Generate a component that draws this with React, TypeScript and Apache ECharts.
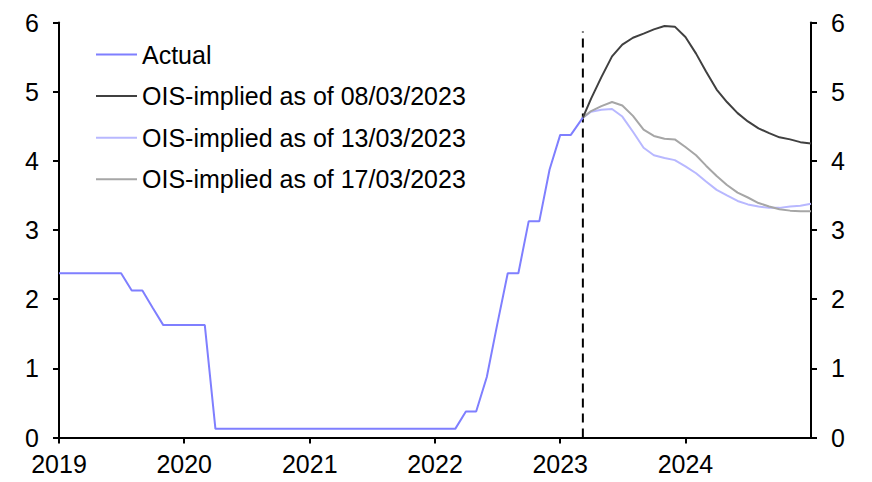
import React, { useEffect, useRef } from "react";
import * as echarts from "echarts";

const FONT = '"Liberation Sans", Arial, sans-serif';

const seriesNames = [
  "Actual",
  "OIS-implied as of 08/03/2023",
  "OIS-implied as of 13/03/2023",
  "OIS-implied as of 17/03/2023",
];

const seriesColors = ["#7f7fff", "#404040", "#b8b8ff", "#a6a6a6"];

const actualData: [string, number][] = [
  ["2019-01-01", 2.375], ["2019-02-01", 2.375], ["2019-03-01", 2.375], ["2019-04-01", 2.375],
  ["2019-05-01", 2.375], ["2019-06-01", 2.375], ["2019-07-01", 2.375], ["2019-08-01", 2.125],
  ["2019-09-01", 2.125], ["2019-10-01", 1.875], ["2019-11-01", 1.625], ["2019-12-01", 1.625],
  ["2020-01-01", 1.625], ["2020-02-01", 1.625], ["2020-03-01", 1.625], ["2020-04-01", 0.125],
  ["2020-05-01", 0.125], ["2020-06-01", 0.125], ["2020-07-01", 0.125], ["2020-08-01", 0.125],
  ["2020-09-01", 0.125], ["2020-10-01", 0.125], ["2020-11-01", 0.125], ["2020-12-01", 0.125],
  ["2021-01-01", 0.125], ["2021-02-01", 0.125], ["2021-03-01", 0.125], ["2021-04-01", 0.125],
  ["2021-05-01", 0.125], ["2021-06-01", 0.125], ["2021-07-01", 0.125], ["2021-08-01", 0.125],
  ["2021-09-01", 0.125], ["2021-10-01", 0.125], ["2021-11-01", 0.125], ["2021-12-01", 0.125],
  ["2022-01-01", 0.125], ["2022-02-01", 0.125], ["2022-03-01", 0.125], ["2022-04-01", 0.375],
  ["2022-05-01", 0.375], ["2022-06-01", 0.875], ["2022-07-01", 1.625], ["2022-08-01", 2.375],
  ["2022-09-01", 2.375], ["2022-10-01", 3.125], ["2022-11-01", 3.125], ["2022-12-01", 3.875],
  ["2023-01-01", 4.375], ["2023-02-01", 4.375], ["2023-03-08", 4.625],
];

const forecastDates = [
  "2023-03-08", "2023-04-01", "2023-05-01", "2023-06-01", "2023-07-01", "2023-08-01",
  "2023-09-01", "2023-10-01", "2023-11-01", "2023-12-01", "2024-01-01", "2024-02-01",
  "2024-03-01", "2024-04-01", "2024-05-01", "2024-06-01", "2024-07-01", "2024-08-01",
  "2024-09-01", "2024-10-01", "2024-11-01", "2024-12-01", "2025-01-01",
];

const ois0803 = [
  4.625, 4.9, 5.21, 5.51, 5.68, 5.78, 5.84, 5.9, 5.95, 5.94, 5.79, 5.55,
  5.29, 5.03, 4.85, 4.69, 4.57, 4.47, 4.4, 4.34, 4.31, 4.27, 4.25,
];
const ois1303 = [
  4.625, 4.71, 4.74, 4.75, 4.64, 4.42, 4.19, 4.08, 4.04, 4.01, 3.92, 3.82,
  3.7, 3.58, 3.5, 3.42, 3.37, 3.34, 3.32, 3.32, 3.34, 3.35, 3.38,
];
const ois1703 = [
  4.625, 4.72, 4.79, 4.85, 4.8, 4.65, 4.45, 4.36, 4.32, 4.31, 4.2, 4.08,
  3.93, 3.78, 3.65, 3.54, 3.47, 3.39, 3.34, 3.3, 3.28, 3.27, 3.27,
];

const markerDate = "2023-03-08";
const markerRange = [0, 5.87];

const xMin = "2019-01-01";
const xMax = "2025-01-01";
const yMin = 0;
const yMax = 6;
const yInterval = 1;

const YEAR_MS = 365 * 24 * 3600 * 1000;

export default function App() {
  const ref = useRef<HTMLDivElement>(null);
  useEffect(() => {
    if (!ref.current) return;
    document.body.style.margin = "0";
    const chart = echarts.init(ref.current, undefined, { renderer: "svg" });
    const forecasts = [ois0803, ois1303, ois1703];
    const yAxisCommon = {
      type: "value" as const,
      min: yMin,
      max: yMax,
      interval: yInterval,
      splitLine: { show: false },
      axisLine: { show: true, lineStyle: { color: "#000", width: 2 } },
      axisTick: { show: true, inside: false, length: 6, lineStyle: { color: "#000", width: 2 } },
      axisLabel: { color: "#000", fontSize: 25, fontFamily: FONT, margin: 20 },
    };
    chart.setOption({
      animation: false,
      backgroundColor: "#fff",
      textStyle: { fontFamily: FONT },
      grid: { left: 59, right: 61, top: 22.5, bottom: 44.5 },
      legend: {
        show: true,
        data: seriesNames,
        orient: "vertical",
        left: 96,
        top: 42,
        padding: 0,
        icon: "rect",
        itemWidth: 41,
        itemHeight: 2,
        itemGap: 16.6,
        textStyle: { color: "#000", fontSize: 25, fontFamily: FONT, lineHeight: 25 },
      },
      xAxis: {
        type: "time",
        min: xMin,
        max: xMax,
        minInterval: YEAR_MS,
        maxInterval: YEAR_MS * 1.01,
        splitLine: { show: false },
        axisLine: { show: true, lineStyle: { color: "#000", width: 2 } },
        axisTick: { show: true, length: 6, lineStyle: { color: "#000", width: 2 } },
        axisLabel: {
          color: "#000",
          fontSize: 25,
          fontFamily: FONT,
          fontWeight: "normal",
          margin: 14,
          showMaxLabel: false,
          formatter: (v: number) => String(new Date(v).getFullYear()),
        },
      },
      yAxis: [
        { ...yAxisCommon, position: "left" },
        { ...yAxisCommon, position: "right" },
      ],
      series: [
        {
          name: seriesNames[0],
          type: "line",
          data: actualData,
          symbol: "none",
          lineStyle: { color: seriesColors[0], width: 2 },
          itemStyle: { color: seriesColors[0] },
          z: 5,
        },
        ...forecasts.map((vals, i) => ({
          name: seriesNames[i + 1],
          type: "line",
          data: forecastDates.map((d, j) => [d, vals[j]]),
          symbol: "none",
          lineStyle: { color: seriesColors[i + 1], width: 2 },
          itemStyle: { color: seriesColors[i + 1] },
          z: 3 + (i === 0 ? 1 : 0),
        })),
        {
          name: "marker",
          type: "line",
          data: markerRange.map((v) => [markerDate, v]),
          symbol: "none",
          lineStyle: { color: "#000", width: 2, type: [9, 6] },
          z: 2,
        },
      ],
    });
    return () => chart.dispose();
  }, []);
  return <div ref={ref} style={{ width: 872, height: 482 }} />;
}
